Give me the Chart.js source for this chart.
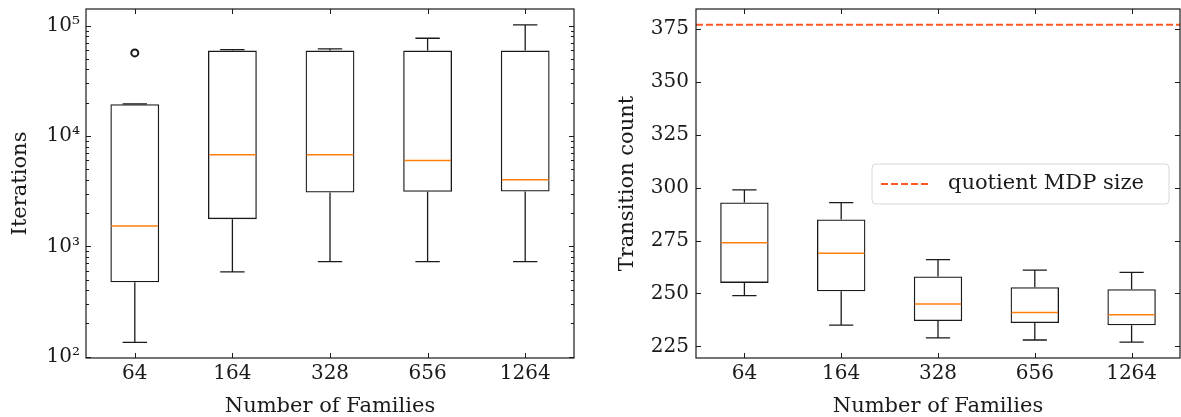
<!DOCTYPE html>
<html>
<head>
<meta charset="utf-8">
<script src="https://cdn.jsdelivr.net/npm/chart.js@4/dist/chart.umd.min.js"></script>
<style>
  body { margin: 0; background: #fff; }
  .panel { position: absolute; top: 0; height: 417px; }
  #izq { left: 0; width: 590px; }
  #der { left: 590px; width: 591px; }
</style>
</head>
<body>
<div class="panel" id="izq"><canvas id="graficaIter"></canvas></div>
<div class="panel" id="der"><canvas id="graficaTrans"></canvas></div>
<script>
const familias = ['64', '164', '328', '656', '1264'];

// iteraciones (eje log)
const iterMin = [135, 586, 727, 727, 727];
const iterQ1 = [472, 1762, 3075, 3117, 3140];
const iterMediana = [1531, 6750, 6750, 5995, 4005];
const iterQ3 = [19400, 59300, 59300, 59300, 59300];
const iterMax = [19500, 60600, 61500, 76700, 101500];
const iterAtipicos = [56500, null, null, null, null];
const iterTicks = [100, 1000, 10000, 100000];

// transiciones
const transMin = [249, 235, 229, 228, 227];
const transQ1 = [255, 251, 237, 236, 235];
const transMediana = [274, 269, 245, 241, 240];
const transQ3 = [293, 285, 258, 253, 252];
const transMax = [299, 293, 266, 261, 260];
const transTicks = [225, 250, 275, 300, 325, 350, 375];
const tamanoMDP = 377;

const FUENTE = 'DejaVu Serif';
const NEGRO = '#1a1a1a';
const NARANJA = '#ff7f0e';
const ROJO = '#ff5722';
const sup = { 2: '\u00b2', 3: '\u00b3', 4: '\u2074', 5: '\u2075' };

function crearPluginCajas(id, q1, q3, mediana, min, max, menores, extra) {
  return {
    id: id,
    afterDatasetsDraw(chart) {
      const { ctx, chartArea: a, scales: { x, y } } = chart;
      const barras = chart.getDatasetMeta(0).data;
      ctx.save();
      // bigotes
      ctx.strokeStyle = NEGRO;
      ctx.lineWidth = 1.3;
      ctx.beginPath();
      familias.forEach((_, i) => {
        const px = barras[i].x;
        const media = barras[i].width / 4;
        const yMin = y.getPixelForValue(min[i]);
        const yMax = y.getPixelForValue(max[i]);
        ctx.moveTo(px, y.getPixelForValue(q1[i])); ctx.lineTo(px, yMin);
        ctx.moveTo(px, y.getPixelForValue(q3[i])); ctx.lineTo(px, yMax);
        ctx.moveTo(px - media, yMin); ctx.lineTo(px + media, yMin);
        ctx.moveTo(px - media, yMax); ctx.lineTo(px + media, yMax);
      });
      ctx.stroke();
      // medianas
      ctx.strokeStyle = NARANJA;
      ctx.lineWidth = 1.5;
      ctx.beginPath();
      familias.forEach((_, i) => {
        const b = barras[i];
        const py = y.getPixelForValue(mediana[i]);
        ctx.moveTo(b.x - b.width / 2 + 1, py); ctx.lineTo(b.x + b.width / 2 - 1, py);
      });
      ctx.stroke();
      if (extra) extra(chart);
      // marcas hacia adentro
      ctx.strokeStyle = NEGRO;
      ctx.lineWidth = 1;
      ctx.beginPath();
      familias.forEach((_, i) => {
        const px = Math.round(x.getPixelForValue(i)) + 0.5;
        ctx.moveTo(px, a.bottom); ctx.lineTo(px, a.bottom - 5);
        ctx.moveTo(px, a.top); ctx.lineTo(px, a.top + 5);
      });
      y.ticks.forEach(t => {
        const py = Math.round(y.getPixelForValue(t.value)) + 0.5;
        ctx.moveTo(a.left, py); ctx.lineTo(a.left + 5, py);
        ctx.moveTo(a.right, py); ctx.lineTo(a.right - 5, py);
      });
      menores.forEach(v => {
        if (v <= y.min || v >= y.max) return;
        const py = Math.round(y.getPixelForValue(v)) + 0.5;
        ctx.moveTo(a.left, py); ctx.lineTo(a.left + 3, py);
        ctx.moveTo(a.right, py); ctx.lineTo(a.right - 3, py);
      });
      ctx.stroke();
      ctx.lineWidth = 1.2;
      ctx.strokeStyle = NEGRO;
      ctx.strokeRect(a.left, a.top, a.right - a.left, a.bottom - a.top);
      ctx.restore();
    }
  };
}

function opcionesBase(anchoY, padding, tituloY, padTituloY) {
  return {
    responsive: true,
    maintainAspectRatio: false,
    animation: false,
    layout: { padding: padding },
    plugins: { legend: { display: false }, tooltip: { enabled: false } },
    scales: {
      x: {
        type: 'category',
        offset: true,
        grid: { display: false, drawTicks: false },
        border: { display: false },
        ticks: { color: NEGRO, padding: 4, font: { family: FUENTE, size: 20 } },
        title: {
          display: true, text: 'Number of Families', color: NEGRO,
          font: { family: FUENTE, size: 21, lineHeight: 1 }, padding: { top: 0, bottom: 0 }
        },
        afterFit: s => { s.height = 59; s.paddingLeft = 0; s.paddingRight = 0; }
      },
      y: {
        grid: { display: false, drawTicks: false },
        border: { display: false },
        ticks: { color: NEGRO, padding: 7, font: { family: FUENTE, size: 20 } },
        title: {
          display: true, text: tituloY, color: NEGRO,
          font: { family: FUENTE, size: 21, lineHeight: 1 }, padding: { top: padTituloY, bottom: 0 }
        },
        afterFit: s => { s.width = anchoY; s.paddingTop = 0; s.paddingBottom = 0; }
      }
    }
  };
}

function datasetCajas(q1, q3) {
  return {
    type: 'bar',
    data: q1.map((v, i) => [v, q3[i]]),
    backgroundColor: 'rgba(0,0,0,0)',
    borderColor: NEGRO,
    borderWidth: 1.3,
    borderSkipped: false,
    barPercentage: 0.5,
    categoryPercentage: 1.0
  };
}

// ---- grafica izquierda
const menoresLog = [];
[1, 2, 3, 4, 5].forEach(e => {
  for (let d = 2; d <= 9; d++) menoresLog.push(d * Math.pow(10, e));
});

const opcIter = opcionesBase(86, { top: 9, right: 16, left: 0, bottom: 0 }, 'Iterations', 10);
opcIter.scales.y.type = 'logarithmic';
opcIter.scales.y.min = Math.pow(10, 1.988);
opcIter.scales.y.max = Math.pow(10, 5.15);
opcIter.scales.y.afterBuildTicks = s => { s.ticks = iterTicks.map(v => ({ value: v })); };
opcIter.scales.y.ticks.callback = v => '10' + sup[Math.round(Math.log10(v))];
opcIter.scales.y.ticks.padding = 6;

new Chart(document.getElementById('graficaIter'), {
  data: {
    labels: familias,
    datasets: [
      datasetCajas(iterQ1, iterQ3),
      {
        type: 'line',
        data: iterAtipicos,
        showLine: false,
        pointStyle: 'circle',
        pointRadius: 3.5,
        pointBorderWidth: 2,
        pointBorderColor: NEGRO,
        pointBackgroundColor: 'rgba(0,0,0,0)'
      }
    ]
  },
  options: opcIter,
  plugins: [crearPluginCajas('cajasIter', iterQ1, iterQ3, iterMediana, iterMin, iterMax, menoresLog)]
});

// ---- grafica derecha
function dibujarMDP(chart) {
  const { ctx, chartArea: a, scales: { y } } = chart;
  const py = y.getPixelForValue(tamanoMDP);
  ctx.save();
  ctx.strokeStyle = ROJO;
  ctx.lineWidth = 2;
  ctx.setLineDash([7, 3]);
  ctx.beginPath();
  ctx.moveTo(a.left, py); ctx.lineTo(a.right, py);
  ctx.stroke();
  // leyenda
  const ancho = 297, alto = 40;
  const lx = a.right - 11 - ancho;
  const ly = (a.top + a.bottom) / 2 - alto / 2 + 0.5;
  ctx.setLineDash([]);
  ctx.fillStyle = 'rgba(255,255,255,0.8)';
  ctx.strokeStyle = '#d6d6d6';
  ctx.lineWidth = 1;
  ctx.beginPath();
  ctx.roundRect(lx, ly, ancho, alto, 4);
  ctx.fill();
  ctx.stroke();
  ctx.strokeStyle = ROJO;
  ctx.lineWidth = 2;
  ctx.setLineDash([7, 3]);
  ctx.beginPath();
  ctx.moveTo(lx + 9, ly + alto / 2); ctx.lineTo(lx + 58, ly + alto / 2);
  ctx.stroke();
  ctx.fillStyle = NEGRO;
  ctx.font = '21px "' + FUENTE + '"';
  ctx.textBaseline = 'middle';
  ctx.fillText('quotient MDP size', lx + 76, ly + alto / 2);
  ctx.restore();
}

const opcTrans = opcionesBase(106, { top: 9, right: 1, left: 0, bottom: 0 }, 'Transition count', 27);
opcTrans.scales.y.type = 'linear';
opcTrans.scales.y.min = 219.5;
opcTrans.scales.y.max = 384.5;
opcTrans.scales.y.afterBuildTicks = s => { s.ticks = transTicks.map(v => ({ value: v })); };

new Chart(document.getElementById('graficaTrans'), {
  data: {
    labels: familias,
    datasets: [datasetCajas(transQ1, transQ3)]
  },
  options: opcTrans,
  plugins: [crearPluginCajas('cajasTrans', transQ1, transQ3, transMediana, transMin, transMax, [], dibujarMDP)]
});
</script>
</body>
</html>
